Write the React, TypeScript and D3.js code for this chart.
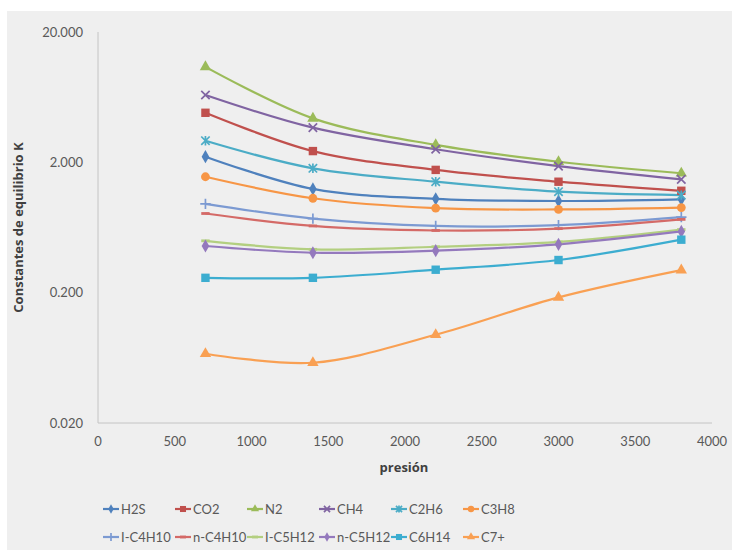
import React from "react";
import * as d3 from "d3";

// Pressure levels (x) and equilibrium constants K for each component
const pressures = [700, 1400, 2200, 3000, 3800];

const kH2S = [2.21, 1.25, 1.05, 1.01, 1.04];
const kCO2 = [4.8, 2.44, 1.75, 1.42, 1.21];
const kN2 = [10.8, 4.35, 2.72, 2.02, 1.65];
const kCH4 = [6.57, 3.69, 2.52, 1.87, 1.48];
const kC2H6 = [2.93, 1.8, 1.42, 1.19, 1.12];
const kC3H8 = [1.55, 1.06, 0.89, 0.87, 0.9];
const kIC4H10 = [0.96, 0.74, 0.65, 0.66, 0.76];
const kNC4H10 = [0.81, 0.65, 0.6, 0.62, 0.73];
const kIC5H12 = [0.5, 0.43, 0.45, 0.49, 0.61];
const kNC5H12 = [0.456, 0.405, 0.42, 0.47, 0.59];
const kC6H14 = [0.26, 0.26, 0.3, 0.356, 0.51];
const kC7plus = [0.068, 0.058, 0.095, 0.184, 0.298];

const seriesNames = ["H2S", "CO2", "N2", "CH4", "C2H6", "C3H8", "I-C4H10", "n-C4H10", "I-C5H12", "n-C5H12", "C6H14", "C7+"];
const seriesValues = [kH2S, kCO2, kN2, kCH4, kC2H6, kC3H8, kIC4H10, kNC4H10, kIC5H12, kNC5H12, kC6H14, kC7plus];

const xTicks = [0, 500, 1000, 1500, 2000, 2500, 3000, 3500, 4000];
const yTicks = [0.02, 0.2, 2, 20];

const colors = ["#4F81BD", "#C0504D", "#9BBB59", "#8064A2", "#4BACC6", "#F79646", "#7C9AD2", "#D46A67", "#B3CF80", "#9479BD", "#3CADD0", "#F9A053"];
const markers = ["diamond", "square", "triangle", "x", "star", "circle", "plus", "dash", "dash", "diamond", "square", "triangle"];

const W = 732;
const H = 550;
const plot = { left: 98, right: 712, top: 32, bottom: 423 };
const textColor = "#595959";
const font = "Lato, 'Open Sans', sans-serif";
const titleFont = "'Open Sans', Lato, sans-serif";

const x = d3.scaleLinear().domain([0, 4000]).range([plot.left, plot.right]);
const y = d3.scaleLog().domain([0.02, 20]).range([plot.bottom, plot.top]);

function Marker({ kind, cx, cy, color, s = 1 }: { kind: string; cx: number; cy: number; color: string; s?: number }) {
  const t = `translate(${cx},${cy})`;
  if (kind === "diamond") return <path transform={t} d={d3.symbol(d3.symbolDiamond, 50 * s * s)()!} fill={color} />;
  if (kind === "square") return <rect x={cx - 4.2 * s} y={cy - 4.2 * s} width={8.4 * s} height={8.4 * s} fill={color} />;
  if (kind === "triangle") return <path transform={t} d={d3.symbol(d3.symbolTriangle, 56 * s * s)()!} fill={color} />;
  if (kind === "circle") return <circle cx={cx} cy={cy} r={4.4 * s} fill={color} />;
  const r = 4.2 * s;
  if (kind === "x")
    return <path transform={t} d={`M${-r},${-r}L${r},${r}M${-r},${r}L${r},${-r}`} stroke={color} strokeWidth={1.7} fill="none" />;
  if (kind === "star")
    return <path transform={t} d={`M${-r},${-r}L${r},${r}M${-r},${r}L${r},${-r}M0,${-r - 0.5}L0,${r + 0.5}`} stroke={color} strokeWidth={1.7} fill="none" />;
  if (kind === "plus")
    return <path transform={t} d={`M${-r - 1},0L${r + 1},0M0,${-r - 1}L0,${r + 1}`} stroke={color} strokeWidth={1.7} fill="none" />;
  if (kind === "dash") return <path transform={t} d={`M${-r},0L${r},0`} stroke={color} strokeWidth={2.8} fill="none" />;
  return null;
}

export default function App() {
  const line = d3
    .line<[number, number]>()
    .x((d) => x(d[0]))
    .y((d) => y(d[1]))
    .curve(d3.curveCatmullRom.alpha(0.5));

  const legendCol = 72;
  const legendX0 = 103;
  const legendRows = [509, 537];

  return (
    <div style={{ position: "fixed", left: 0, top: 0 }}>
      <svg width={W} height={H} style={{ display: "block" }} fontFamily={font}>
        <rect x={0} y={0} width={W} height={H} fill="#ffffff" />
        <rect x={7} y={11} width={W - 7} height={H - 11} fill="#efefef" />

        {/* axes */}
        <line x1={plot.left} x2={plot.left} y1={plot.top} y2={plot.bottom} stroke="#c4c4c4" strokeWidth={1} />
        <line x1={plot.left} x2={plot.right} y1={plot.bottom} y2={plot.bottom} stroke="#c4c4c4" strokeWidth={1} />

        {yTicks.map((v) => (
          <text key={v} x={83} y={y(v)} dy="0.35em" textAnchor="end" fontSize={13} fill={textColor}>
            {d3.format(".3f")(v)}
          </text>
        ))}
        {xTicks.map((v) => (
          <text key={v} x={x(v)} y={441} dy="0.35em" textAnchor="middle" fontSize={13} fill={textColor}>
            {v}
          </text>
        ))}

        <text x={x(2000) - 1} y={467} dy="0.35em" textAnchor="middle" fontSize={13} fontWeight="bold" fill="#404040" fontFamily={titleFont}>
          presión
        </text>
        <text
          transform={`translate(18,${(plot.top + plot.bottom) / 2}) rotate(-90)`}
          dy="0.35em"
          textAnchor="middle"
          fontSize={13}
          fontWeight="bold"
          fill="#404040"
          fontFamily={titleFont}
        >
          Constantes de equilibrio K
        </text>

        {/* series lines */}
        {seriesValues.map((vals, i) => (
          <path
            key={seriesNames[i]}
            d={line(pressures.map((p, j) => [p, vals[j]] as [number, number]))!}
            fill="none"
            stroke={colors[i]}
            strokeWidth={2.2}
          />
        ))}
        {/* series markers */}
        {seriesValues.map((vals, i) =>
          pressures.map((p, j) => (
            <Marker key={`${i}-${j}`} kind={markers[i]} cx={x(p)} cy={y(vals[j])} color={colors[i]} />
          ))
        )}

        {/* legend */}
        {seriesNames.map((name, i) => {
          const row = Math.floor(i / 6);
          const col = i % 6;
          const lx = legendX0 + col * legendCol;
          const ly = legendRows[row];
          return (
            <g key={name}>
              <line x1={lx} x2={lx + 16} y1={ly} y2={ly} stroke={colors[i]} strokeWidth={2.2} />
              <Marker kind={markers[i]} cx={lx + 8} cy={ly} color={colors[i]} s={0.72} />
              <text x={lx + 18} y={ly} dy="0.35em" fontSize={13} fill={textColor}>
                {name}
              </text>
            </g>
          );
        })}
      </svg>
    </div>
  );
}
